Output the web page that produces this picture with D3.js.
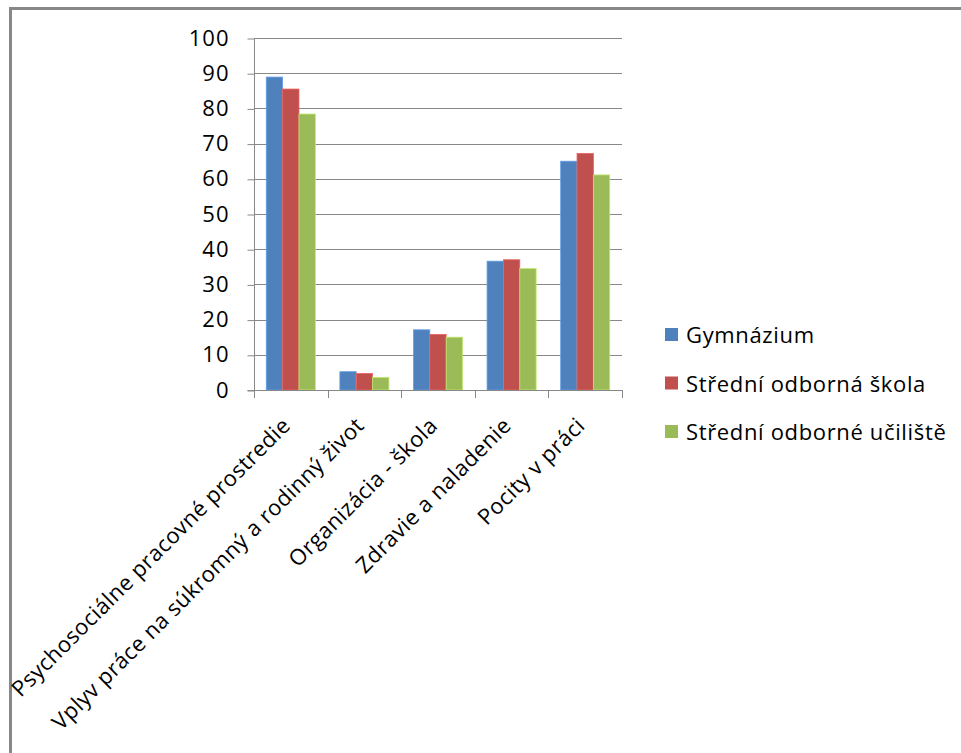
<!DOCTYPE html>
<html>
<head>
<meta charset="utf-8">
<script src="https://cdn.jsdelivr.net/npm/d3@7"></script>
<style>
  html, body { margin: 0; padding: 0; background: #fff; }
  svg { display: block; }
  text { font-family: "Open Sans", sans-serif; fill: #000; }
</style>
</head>
<body>
<svg id="chart" width="961" height="753"></svg>
<script>
// Categories along the x axis
const categories = [
  "Psychosociálne pracovné prostredie",
  "Vplyv práce na súkromný a rodinný život",
  "Organizácia - škola",
  "Zdravie a naladenie",
  "Pocity v práci"
];
// Series names and colours
const seriesNames = ["Gymnázium", "Střední odborná škola", "Střední odborné učiliště"];
const seriesColors = ["#4F81BD", "#C0504D", "#9BBB59"];
// Values per series, in category order
const gymnazium = [88.9, 5.2, 17.1, 36.6, 65.0];
const stredniSkola = [85.5, 4.7, 15.8, 37.0, 67.2];
const stredniUciliste = [78.4, 3.6, 15.0, 34.5, 61.1];
const seriesValues = [gymnazium, stredniSkola, stredniUciliste];
// Y axis ticks
const yTicks = [0, 10, 20, 30, 40, 50, 60, 70, 80, 90, 100];

const svg = d3.select("#chart");
const W = 961, H = 753;
const FONT = 22;
const SPACING = 0.65;

// outer frame
svg.append("rect")
  .attr("x", 10.5).attr("y", 8.5)
  .attr("width", W + 10).attr("height", H + 10)
  .attr("fill", "none").attr("stroke", "#888").attr("stroke-width", 3);

const plot = { left: 254, right: 622, top: 38, bottom: 390 };

const x = d3.scaleBand().domain(categories).range([plot.left, plot.right]).paddingInner(0).paddingOuter(0);
const xs = d3.scaleBand().domain(d3.range(seriesNames.length)).range([0, x.bandwidth()])
  .paddingInner(0).paddingOuter(0.75);
const y = d3.scaleLinear().domain([0, 100]).range([plot.bottom, plot.top]);

const gridColor = "#888";

// horizontal gridlines
svg.append("g").selectAll("line").data(yTicks.filter(t => t > 0)).join("line")
  .attr("x1", plot.left).attr("x2", plot.right)
  .attr("y1", d => Math.round(y(d)) + 0.5).attr("y2", d => Math.round(y(d)) + 0.5)
  .attr("stroke", gridColor).attr("stroke-width", 1);

// bars
const groups = svg.append("g").selectAll("g").data(categories).join("g")
  .attr("transform", d => `translate(${x(d)},0)`);
groups.selectAll("rect").data((c, ci) => seriesValues.map((vals, si) => ({ si, v: vals[ci] })))
  .join("rect")
  .attr("x", d => xs(d.si))
  .attr("width", xs.bandwidth())
  .attr("y", d => y(d.v))
  .attr("height", d => y(0) - y(d.v))
  .attr("fill", d => seriesColors[d.si])
  .attr("stroke", d => d3.color(seriesColors[d.si]).brighter(0.6))
  .attr("stroke-width", 0.8);

// y axis
const yAxis = d3.axisLeft(y).tickValues(yTicks).tickSize(7).tickPadding(18);
const gy = svg.append("g").attr("transform", `translate(${plot.left + 0.5},0)`).call(yAxis);
gy.select(".domain").attr("stroke", gridColor).attr("d", `M-7,${plot.bottom + 0.5}H0V${plot.top}`);
gy.selectAll(".tick line").attr("stroke", gridColor).attr("transform", "translate(0,0.5)");
gy.selectAll(".tick text").attr("font-size", FONT).attr("letter-spacing", 1)
  .attr("font-family", "'Open Sans', sans-serif").attr("fill", "#000");

// x axis line and ticks
const gx = svg.append("g");
gx.append("line").attr("x1", plot.left).attr("x2", plot.right + 0.5)
  .attr("y1", plot.bottom + 0.5).attr("y2", plot.bottom + 0.5).attr("stroke", gridColor);
const boundaries = categories.map(c => x(c)).concat([x(categories[categories.length - 1]) + x.bandwidth()]);
gx.selectAll("line.tk").data(boundaries).join("line").attr("class", "tk")
  .attr("x1", d => Math.round(d) + 0.5).attr("x2", d => Math.round(d) + 0.5)
  .attr("y1", plot.bottom).attr("y2", plot.bottom + 8).attr("stroke", gridColor);

// rotated category labels
gx.selectAll("text").data(categories).join("text")
  .attr("transform", d => `translate(${x(d) + x.bandwidth() / 2 + 1},${plot.bottom + 37}) rotate(-45)`)
  .attr("text-anchor", "end")
  .attr("font-size", FONT)
  .attr("letter-spacing", 0.42)
  .text(d => d);

// legend
const legend = svg.append("g").attr("transform", "translate(665,335)");
const li = legend.selectAll("g").data(seriesNames).join("g")
  .attr("transform", (d, i) => `translate(0,${i * 48.5})`);
li.append("rect").attr("x", 0).attr("y", -7).attr("width", 13).attr("height", 13)
  .attr("fill", (d, i) => seriesColors[i]);
li.append("text").attr("x", 21).attr("y", 8).attr("font-size", FONT)
  .attr("letter-spacing", SPACING).text(d => d);
</script>
</body>
</html>
